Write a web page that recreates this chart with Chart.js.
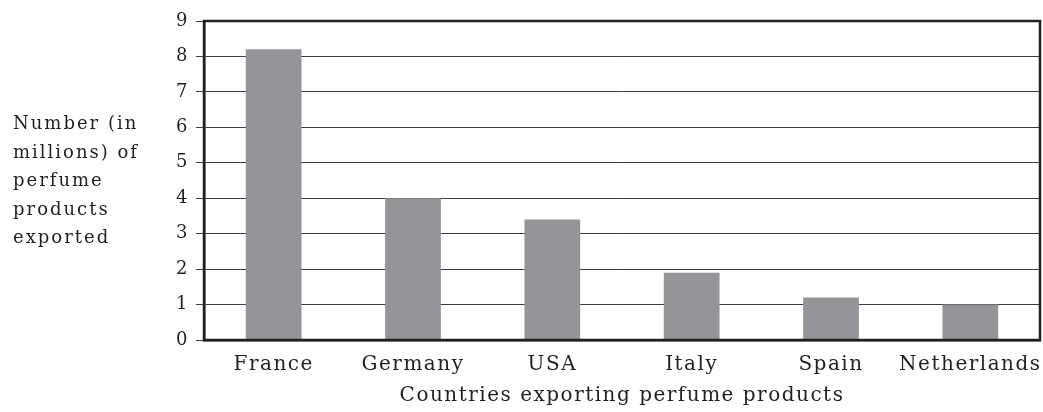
<!DOCTYPE html>
<html><head><meta charset="utf-8">
<script src="https://cdn.jsdelivr.net/npm/chart.js@4.4.1/dist/chart.umd.min.js"></script>
<style>html,body{margin:0;padding:0;background:#fff}#wrap{width:1043px;height:412px;position:relative}</style>
</head><body><div id="wrap"><canvas id="c"></canvas></div>
<script>
const countries = ['France', 'Germany', 'USA', 'Italy', 'Spain', 'Netherlands'];
const exported = [8.2, 4.0, 3.4, 1.9, 1.2, 1.0];
const yMin = 0, yMax = 9, yStep = 1;
const yTitleLines = ['Number (in', 'millions) of', 'perfume', 'products', 'exported'];
const xTitle = 'Countries exporting perfume products';

const FONT = "'DejaVu Serif', serif";
const INK = '#231f20';
const GRID = '#3c3c3c';
const BAR = '#939598';

const spacing = {
  id: 'spacing',
  beforeUpdate(c) { c.ctx.letterSpacing = '1.5px'; },
  beforeLayout(c) { c.ctx.letterSpacing = '1.5px'; },
  beforeDraw(c) { c.ctx.letterSpacing = '1.5px'; }
};

const frame = {
  id: 'frame',
  afterDraw(c) {
    const { ctx, chartArea: a } = c;
    ctx.save();
    ctx.strokeStyle = INK;
    ctx.lineWidth = 2.5;
    ctx.strokeRect(a.left, a.top, a.right - a.left, a.bottom - a.top);
    ctx.fillStyle = INK;
    ctx.font = '18px ' + FONT;
    ctx.letterSpacing = '2px';
    ctx.textAlign = 'left';
    ctx.textBaseline = 'alphabetic';
    const mid = (a.top + a.bottom) / 2;
    yTitleLines.forEach((t, i) => {
      ctx.fillText(t, 13, mid + 5.5 + (i - 2) * 28.5);
    });
    ctx.restore();
  }
};

new Chart(document.getElementById('c'), {
  type: 'bar',
  data: {
    labels: countries,
    datasets: [{
      data: exported,
      backgroundColor: BAR,
      borderWidth: 0,
      barPercentage: 0.4,
      categoryPercentage: 1.0
    }]
  },
  options: {
    responsive: true,
    maintainAspectRatio: false,
    animation: false,
    devicePixelRatio: 1,
    layout: { padding: { left: 170, top: 21, right: 3, bottom: 0 } },
    plugins: { legend: { display: false }, tooltip: { enabled: false } },
    scales: {
      x: {
        grid: { display: false, drawTicks: false },
        border: { display: true, color: INK, width: 2.5 },
        ticks: { color: INK, font: { family: FONT, size: 20 }, padding: 13, maxRotation: 0, autoSkip: false },
        title: { display: true, text: xTitle, color: INK, font: { family: FONT, size: 20 }, padding: { top: 0, bottom: 4 } },
        afterFit(s) { s.height = 72; s.paddingLeft = 0; s.paddingRight = 0; }
      },
      y: {
        min: yMin, max: yMax,
        z: 1,
        grid: { color: GRID, lineWidth: 1, drawTicks: true, tickLength: 8, tickColor: GRID },
        border: { display: true, color: INK, width: 2.5 },
        ticks: { stepSize: yStep, color: INK, font: { family: FONT, size: 18 }, padding: 7 },
        afterFit(s) { s.width = 34; }
      }
    }
  },
  plugins: [spacing, frame]
});
</script>
</body></html>
